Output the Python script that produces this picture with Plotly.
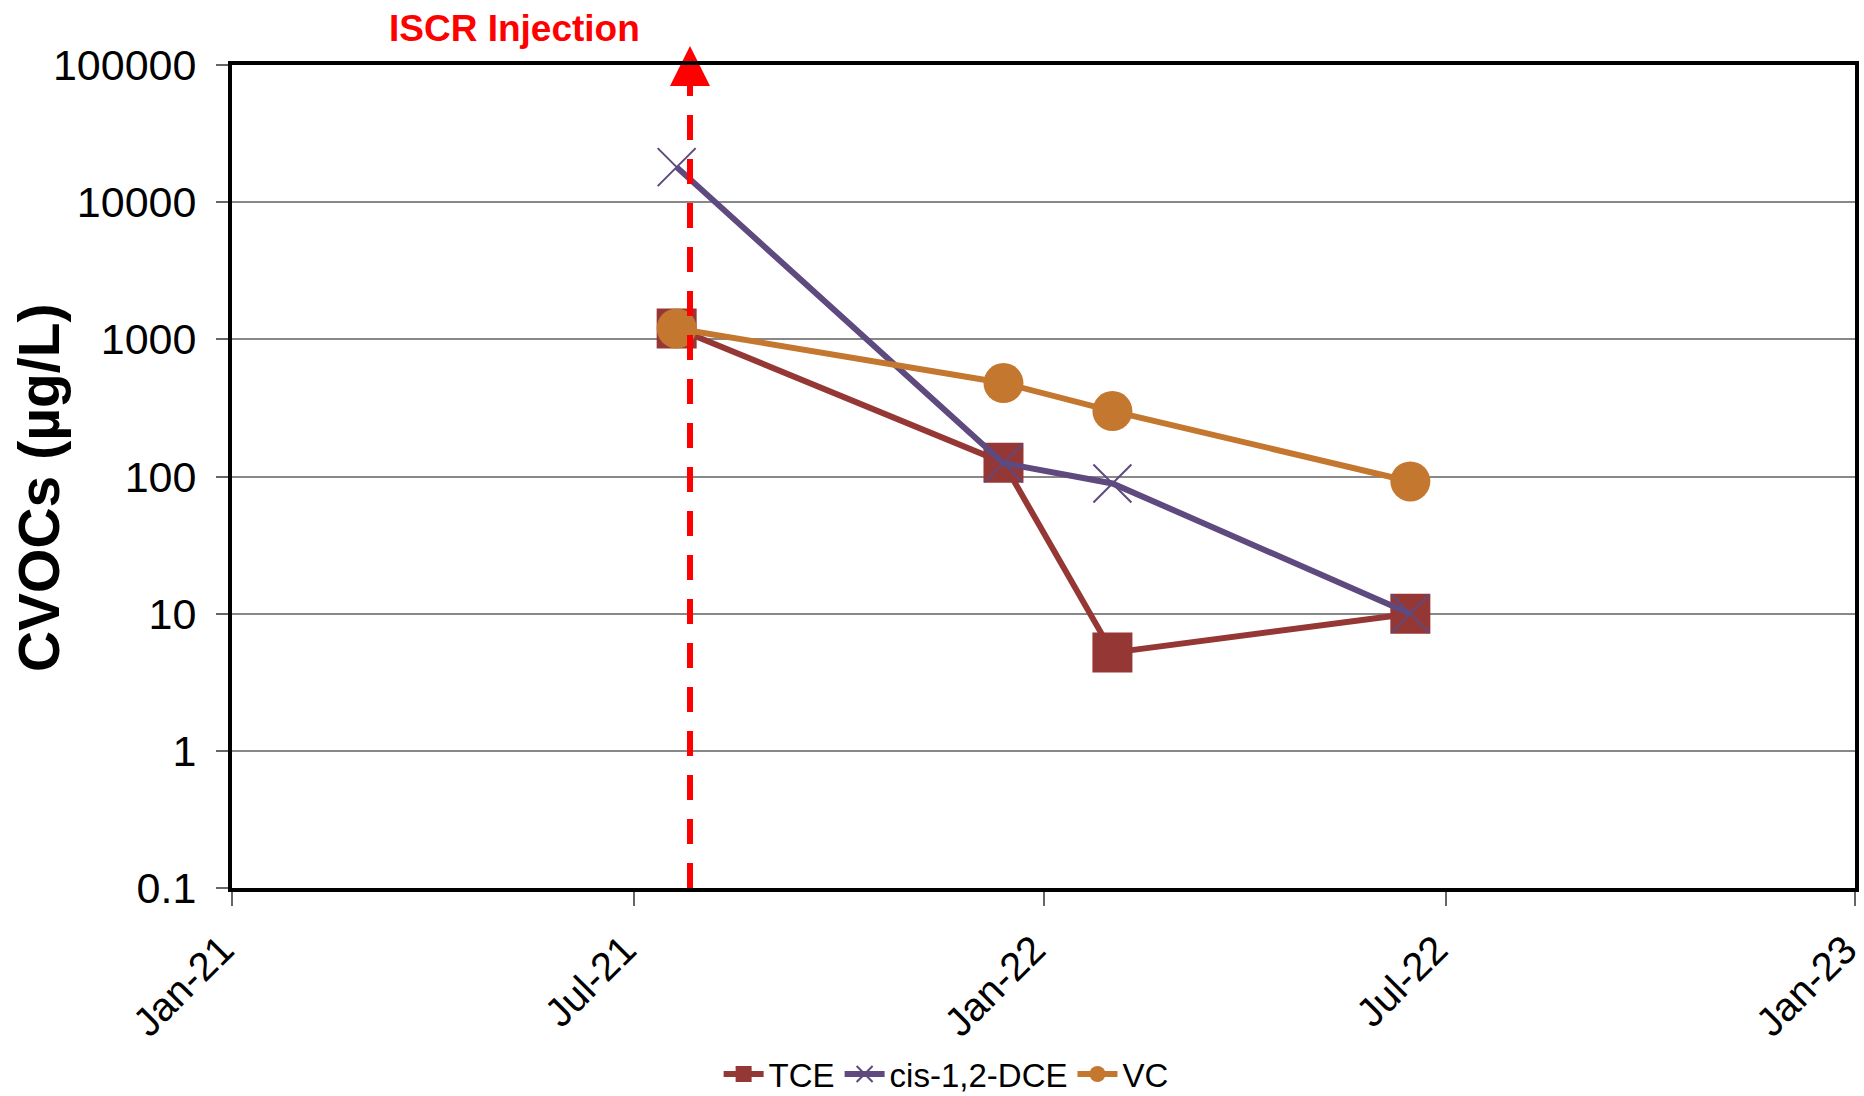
import plotly.graph_objects as go

# ---- data ----
sample_dates = ["2021-07-20", "2021-12-14", "2022-02-01", "2022-06-15"]
tce = [1200, 126, 5.2, 10]
cis_dce = [18000, 125, 89, 10]
vc = [1200, 480, 300, 92]

injection_date = "2021-07-26"
injection_line_y = [0.1, 100000]
injection_marker_y = [99999]
injection_label = "ISCR Injection"

x_tickvals = ["2021-01-01", "2021-07-01", "2022-01-01", "2022-07-01", "2023-01-01"]
x_ticktext = ["Jan-21", "Jul-21", "Jan-22", "Jul-22", "Jan-23"]
y_tickvals = [0.1, 1, 10, 100, 1000, 10000, 100000]
y_ticktext = ["0.1", "1", "10", "100", "1000", "10000", "100000"]

FONT = "Liberation Sans, Arial, sans-serif"
C_TCE = "#953735"
C_DCE = "#5E4A7E"
C_VC = "#C4772F"

fig = go.Figure()

fig.add_trace(go.Scatter(
    x=sample_dates, y=tce, name="TCE", mode="lines+markers",
    line=dict(color=C_TCE, width=6),
    marker=dict(symbol="square", size=40, color=C_TCE),
))
fig.add_trace(go.Scatter(
    x=sample_dates, y=cis_dce, name="cis-1,2-DCE", mode="lines+markers",
    line=dict(color=C_DCE, width=6),
    marker=dict(symbol="x-thin", size=38, color=C_DCE,
                line=dict(color=C_DCE, width=2)),
))
fig.add_trace(go.Scatter(
    x=sample_dates, y=vc, name="VC", mode="lines+markers",
    line=dict(color=C_VC, width=6),
    marker=dict(symbol="circle", size=40, color=C_VC),
))
fig.add_trace(go.Scatter(
    x=[injection_date, injection_date], y=injection_line_y, mode="lines",
    line=dict(color="#FF0000", width=6, dash="25px,19px"),
    showlegend=False, hoverinfo="skip",
))
# upward-pointing arrowhead at the top of the injection line
fig.add_trace(go.Scatter(
    x=[injection_date], y=injection_marker_y, mode="markers",
    marker=dict(symbol="arrow-down", angle=180, standoff=19, size=40,
                color="#FF0000", line=dict(width=0)),
    showlegend=False, cliponaxis=False, hoverinfo="skip",
))

fig.add_annotation(
    text="<b>" + injection_label + "</b>", xref="paper", yref="paper",
    x=0.174, y=1.044, xanchor="center", yanchor="middle", showarrow=False,
    font=dict(family=FONT, size=37, color="#FF0000"),
)
fig.add_annotation(
    text="<b>CVOCs (µg/L)</b>", xref="paper", yref="paper",
    x=-0.119, y=0.487, xanchor="center", yanchor="middle", showarrow=False,
    textangle=-90, font=dict(family=FONT, size=57, color="#000000"),
)

fig.update_layout(
    width=1864, height=1096, autosize=False,
    margin=dict(l=232, r=9, t=65, b=208),
    paper_bgcolor="white", plot_bgcolor="white",
    font=dict(family=FONT, color="#000000"),
    legend=dict(orientation="h", x=0.44, xref="paper", y=0.02, yref="container",
                xanchor="center", yanchor="middle",
                font=dict(family=FONT, size=33, color="#000000"),
                bgcolor="rgba(0,0,0,0)", itemwidth=40, tracegroupgap=0),
    xaxis=dict(
        type="date", range=["2021-01-01", "2023-01-01"],
        tickvals=x_tickvals, ticktext=x_ticktext, tickangle=-45,
        tickfont=dict(family=FONT, size=40),
        showgrid=False, zeroline=False, automargin=False,
        ticklabeloverflow="allow", ticklabelshift=-10, ticklabelstandoff=4,
        showline=True, linecolor="#000000", linewidth=4, mirror=True,
        ticks="outside", ticklen=14, tickwidth=1.5, tickcolor="#666666",
    ),
    yaxis=dict(
        type="log", range=[-1, 5],
        tickvals=y_tickvals, ticktext=y_ticktext,
        tickfont=dict(family=FONT, size=43),
        showgrid=True, gridcolor="#888888", gridwidth=2, zeroline=False,
        automargin=False,
        showline=True, linecolor="#000000", linewidth=4, mirror=True,
        ticks="outside", ticklen=12, tickwidth=1.5, tickcolor="#666666",
        ticklabelstandoff=11,
    ),
)

fig.write_html("out.html", config={"displayModeBar": False},
               post_script="document.body.style.margin='0';")
